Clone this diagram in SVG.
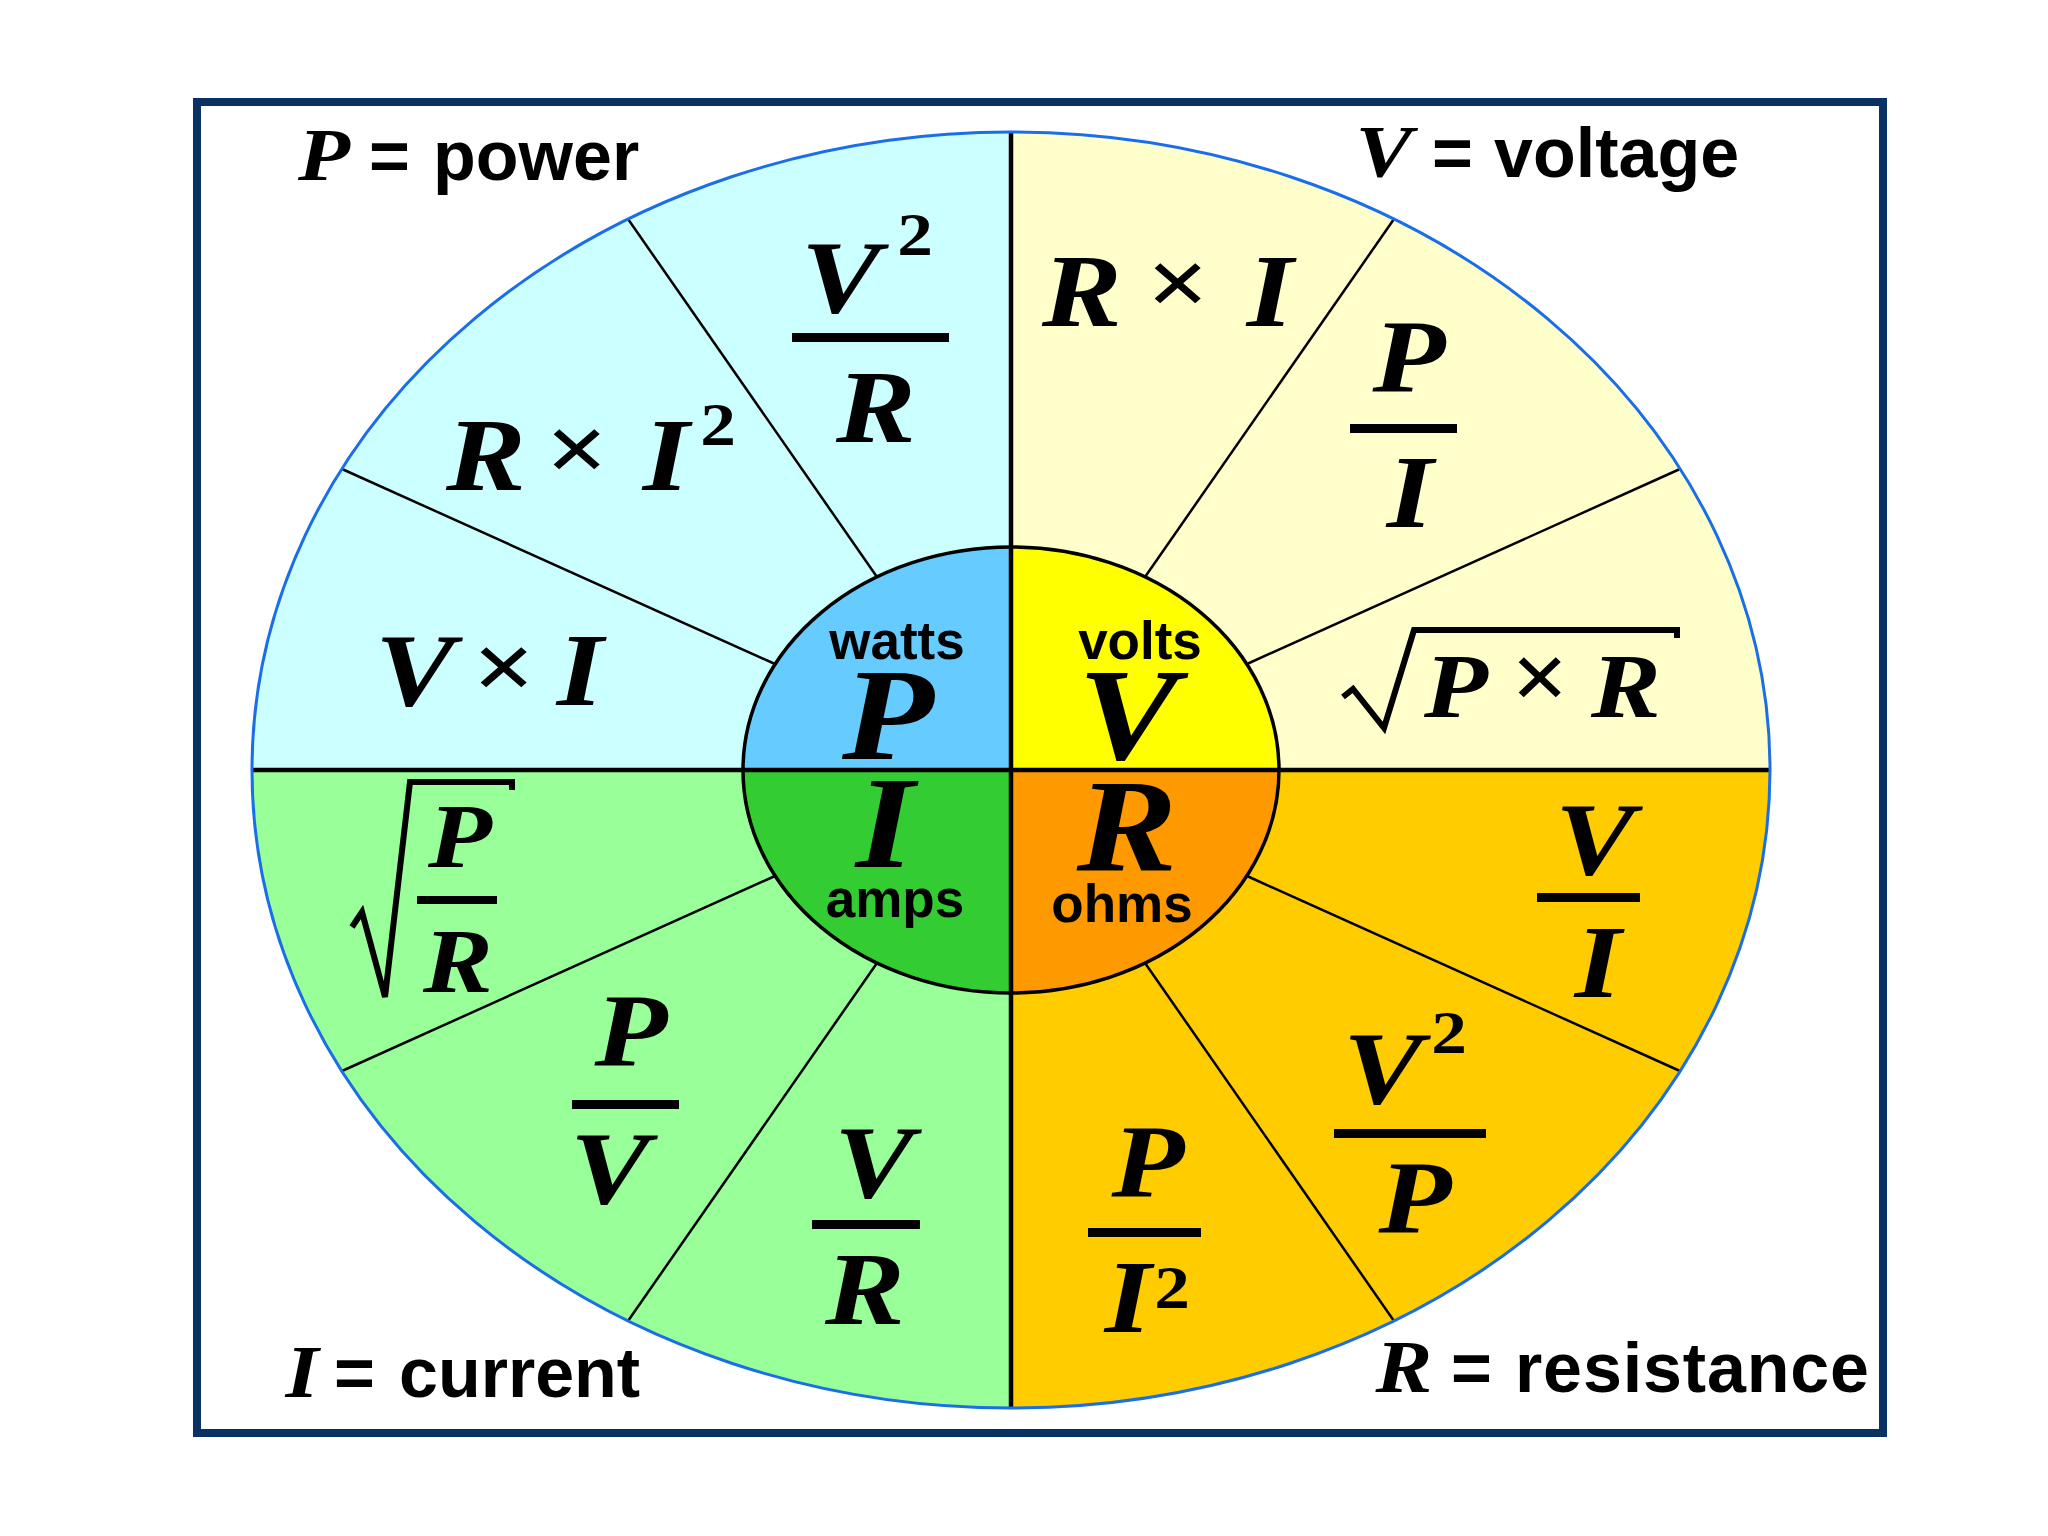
<svg xmlns="http://www.w3.org/2000/svg" width="2048" height="1536" viewBox="0 0 2048 1536">
<style>
.f{font-family:"Liberation Serif","Times New Roman",serif;font-weight:bold;font-style:italic;font-size:104px;text-anchor:middle;fill:#000}
.fs{font-family:"Liberation Serif","Times New Roman",serif;font-weight:bold;font-style:italic;font-size:91px;text-anchor:middle;fill:#000}
.big{font-family:"Liberation Serif","Times New Roman",serif;font-weight:bold;font-style:italic;font-size:131px;text-anchor:middle;fill:#000}
.cv{font-family:"Liberation Serif","Times New Roman",serif;font-weight:bold;font-style:italic;font-size:74px;text-anchor:middle;fill:#000}
.sup{font-family:"Liberation Serif","Times New Roman",serif;font-weight:bold;font-size:62px;text-anchor:middle;fill:#000}
.x{font-family:"Liberation Serif","Times New Roman",serif;font-weight:bold;font-size:96px;text-anchor:middle;fill:#000}
.unit{font-family:"Liberation Sans",Arial,sans-serif;font-weight:bold;font-size:53px;text-anchor:middle;fill:#000}
.cw{font-family:"Liberation Sans",Arial,sans-serif;font-weight:bold;font-size:70px;fill:#000}
.bar{fill:#000}
.spoke{stroke:#000;stroke-width:2.5;fill:none}
.axis{stroke:#000;stroke-width:4.5;fill:none}
.rad{stroke:#000;stroke-width:6;fill:none;stroke-linejoin:miter}
</style>
<rect x="0" y="0" width="2048" height="1536" fill="#ffffff"/>

<g id="quadrants">
<path d="M1011,770 L252,770 A759,638 0 0 1 1011,132 Z" fill="#ccffff"/>
<path d="M1011,770 L1011,132 A759,638 0 0 1 1770,770 Z" fill="#ffffcc"/>
<path d="M1011,770 L1770,770 A759,638 0 0 1 1011,1408 Z" fill="#ffcc00"/>
<path d="M1011,770 L1011,1408 A759,638 0 0 1 252,770 Z" fill="#99ff99"/>
</g>

<g id="hub">
<path d="M1011,770 L743,770 A268,223 0 0 1 1011,547 Z" fill="#66ccff"/>
<path d="M1011,770 L1011,547 A268,223 0 0 1 1279,770 Z" fill="#ffff00"/>
<path d="M1011,770 L1279,770 A268,223 0 0 1 1011,993 Z" fill="#ff9900"/>
<path d="M1011,770 L1011,993 A268,223 0 0 1 743,770 Z" fill="#33cc33"/>
</g>

<g id="connectors">
<line class="spoke" x1="775" y1="664" x2="342" y2="469"/>
<line class="spoke" x1="877" y1="577" x2="628" y2="219"/>
<line class="spoke" x1="1145" y1="577" x2="1394" y2="219"/>
<line class="spoke" x1="1247" y1="664" x2="1680" y2="469"/>
<line class="spoke" x1="775" y1="876" x2="342" y2="1071"/>
<line class="spoke" x1="877" y1="963" x2="628" y2="1321"/>
<line class="spoke" x1="1145" y1="963" x2="1394" y2="1321"/>
<line class="spoke" x1="1247" y1="876" x2="1680" y2="1071"/>
<line class="axis" x1="252" y1="770" x2="1770" y2="770"/>
<line class="axis" x1="1011" y1="132" x2="1011" y2="1408"/>
<ellipse cx="1011" cy="770" rx="268" ry="223" fill="none" stroke="#000" stroke-width="3.5"/>
<ellipse cx="1011" cy="770" rx="759" ry="638" fill="none" stroke="#1a6fe8" stroke-width="3"/>
</g>

<g id="hub-labels">
<text class="unit" x="897" y="659">watts</text>
<text class="big" transform="translate(888 759) scale(1.15 1)">P</text>
<text class="unit" x="1140" y="659">volts</text>
<text class="big" transform="translate(1128 759) scale(1.15 1)">V</text>
<text class="big" transform="translate(885 867) scale(1.15 1)">I</text>
<text class="unit" x="895" y="917">amps</text>
<text class="big" transform="translate(1127 871) scale(1.15 1)">R</text>
<text class="unit" x="1122" y="922">ohms</text>
</g>

<g id="f-v2r">
<text class="f" transform="translate(841 312) scale(1.15 1)">V</text>
<text class="sup" transform="translate(915 255) scale(1.15 1)">2</text>
<rect class="bar" x="792" y="333" width="157" height="9"/>
<text class="f" transform="translate(876 442) scale(1.15 1)">R</text>
</g>
<g id="f-ri2">
<text class="f" transform="translate(486 490) scale(1.15 1)">R</text>
<text class="x" transform="translate(577 481) scale(1.15 1)">×</text>
<text class="f" transform="translate(666 490) scale(1.15 1)">I</text>
<text class="sup" transform="translate(718 445) scale(1.15 1)">2</text>
</g>
<g id="f-vi">
<text class="f" transform="translate(415 705) scale(1.15 1)">V</text>
<text class="x" transform="translate(504 699) scale(1.15 1)">×</text>
<text class="f" transform="translate(580 705) scale(1.15 1)">I</text>
</g>
<g id="f-ri">
<text class="f" transform="translate(1082 326) scale(1.15 1)">R</text>
<text class="x" transform="translate(1178 315) scale(1.15 1)">×</text>
<text class="f" transform="translate(1270 326) scale(1.15 1)">I</text>
</g>
<g id="f-pi">
<text class="f" transform="translate(1409 392) scale(1.15 1)">P</text>
<rect class="bar" x="1350" y="424" width="107" height="9"/>
<text class="f" transform="translate(1410 527) scale(1.15 1)">I</text>
</g>
<g id="f-sqrtpr">
<path class="rad" d="M1343,697 L1353,689 L1384,728 L1414,630 L1677,630 L1677,638"/>
<text class="fs" transform="translate(1456 717) scale(1.15 1)">P</text>
<text class="x" transform="translate(1540 709) scale(1.05 1)">×</text>
<text class="fs" transform="translate(1626 717) scale(1.15 1)">R</text>
</g>
<g id="f-sqrtpdr">
<path class="rad" d="M352,927 L362,912 L385,997 L410,782 L512,782 L512,790"/>
<text class="fs" transform="translate(460 867) scale(1.15 1)">P</text>
<rect class="bar" x="417" y="896" width="80" height="8"/>
<text class="fs" transform="translate(458 992) scale(1.15 1)">R</text>
</g>
<g id="f-pv">
<text class="f" transform="translate(631 1066) scale(1.15 1)">P</text>
<rect class="bar" x="572" y="1100" width="107" height="9"/>
<text class="f" transform="translate(610 1203) scale(1.15 1)">V</text>
</g>
<g id="f-vr">
<text class="f" transform="translate(874 1197) scale(1.15 1)">V</text>
<rect class="bar" x="812" y="1220" width="108" height="9"/>
<text class="f" transform="translate(865 1324) scale(1.15 1)">R</text>
</g>
<g id="f-vi2">
<text class="f" transform="translate(1595 874) scale(1.15 1)">V</text>
<rect class="bar" x="1537" y="893" width="103" height="9"/>
<text class="f" transform="translate(1598 997) scale(1.15 1)">I</text>
</g>
<g id="f-v2p">
<text class="f" transform="translate(1383 1103) scale(1.15 1)">V</text>
<text class="sup" transform="translate(1449 1053) scale(1.15 1)">2</text>
<rect class="bar" x="1334" y="1129" width="152" height="9"/>
<text class="f" transform="translate(1415 1233) scale(1.15 1)">P</text>
</g>
<g id="f-pi2">
<text class="f" transform="translate(1148 1197) scale(1.15 1)">P</text>
<rect class="bar" x="1088" y="1228" width="113" height="9"/>
<text class="f" transform="translate(1128 1332) scale(1.15 1)">I</text>
<text class="sup" transform="translate(1172 1308) scale(1.15 1)">2</text>
</g>

<g id="legend-power">
<text class="cv" transform="translate(324 180) scale(1.15 1)">P</text>
<text class="cw" y="180"><tspan x="369">=</tspan><tspan x="433">power</tspan></text>
</g>
<g id="legend-voltage">
<text class="cv" transform="translate(1384 177) scale(1.15 1)">V</text>
<text class="cw" y="177"><tspan x="1432">=</tspan><tspan x="1494">voltage</tspan></text>
</g>
<g id="legend-current">
<text class="cv" transform="translate(302 1397) scale(1.15 1)">I</text>
<text class="cw" y="1397"><tspan x="334">=</tspan><tspan x="399">current</tspan></text>
</g>
<g id="legend-resistance">
<text class="cv" transform="translate(1404 1392) scale(1.15 1)">R</text>
<text class="cw" y="1392"><tspan x="1451">=</tspan><tspan x="1515" textLength="354" lengthAdjust="spacing">resistance</tspan></text>
</g>

<rect id="frame" x="197" y="102" width="1686" height="1331" fill="none" stroke="#0a3163" stroke-width="8"/>
</svg>
